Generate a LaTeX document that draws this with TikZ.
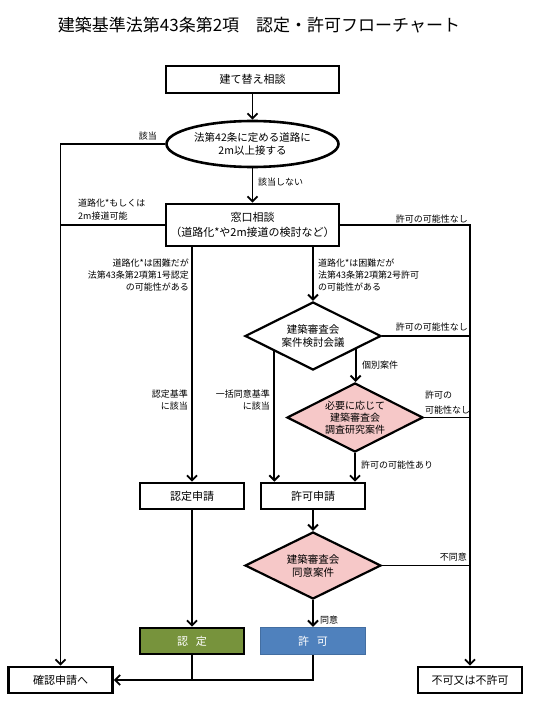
\documentclass[tikz,border=0pt]{standalone}
\usepackage{fontspec}
\setmainfont{Noto Sans CJK JP}
\usetikzlibrary{shapes.geometric,arrows.meta,calc}
\definecolor{pinkfill}{RGB}{246,200,200}
\definecolor{olivefill}{RGB}{119,147,60}
\definecolor{bluefill}{RGB}{79,129,189}
\begin{document}
\begin{tikzpicture}[x=1pt,y=-1pt,
  box/.style={draw, line width=2.6pt, minimum width=104pt, minimum height=26pt, inner sep=0pt, font=\fontsize{11}{15}\selectfont, align=center},
  dia/.style={draw, diamond, line width=2.2pt, inner sep=0pt, aspect=2, align=center, font=\fontsize{10.5}{13}\selectfont},
  lbl/.style={font=\fontsize{9}{12}\selectfont, inner sep=0pt},
  conn/.style={line width=1.9pt},
  arr/.style={conn, -{Straight Barb[length=5pt,width=10pt]}},
]
\useasboundingbox (0,0) rectangle (534,706);
\fill[white] (0,0) rectangle (534,706);

\node[font=\fontsize{17}{20}\selectfont] (title) at (259,25) {建築基準法第43条第2項　認定・許可フローチャート};

\node[box, minimum width=173pt, minimum height=27pt] (n1) at (252.5,79.5) {建て替え相談};
\node[draw, ellipse, line width=2.6pt, minimum width=172pt, minimum height=46pt, inner sep=0pt, align=center, font=\fontsize{10.5}{12.5}\selectfont] (n2) at (252.5,144) {法第42条に定める道路に\\2m以上接する};
\node[box, minimum width=173pt, minimum height=42pt] (n3) at (252.5,225) {窓口相談\\（道路化*や2m接道の検討など）};
\node[dia, fill=white, minimum width=136pt, minimum height=68pt] (d1) at (313,336) {建築審査会\\案件検討会議};
\node[dia, fill=pinkfill, minimum width=136pt, minimum height=69pt, font=\fontsize{10}{12}\selectfont] (d2) at (355,417.5) {必要に応じて\\建築審査会\\調査研究案件};
\node[box] (n4) at (192,496) {認定申請};
\node[box] (n5) at (313,496) {許可申請};
\node[dia, fill=pinkfill, minimum width=136pt, minimum height=67pt] (d3) at (313,565.5) {建築審査会\\同意案件};
\node[box, fill=olivefill, text=white] (n6) at (192,641) {認\hspace{0.7em}定};
\node[box, fill=bluefill, draw=bluefill!85!black, line width=1pt, minimum width=105.5pt, minimum height=27.5pt, text=white] (n7) at (313,641) {許\hspace{0.7em}可};
\node[box] (n8) at (60.5,680) {確認申請へ};
\node[box] (n9) at (470,680) {不可又は不許可};

\draw[arr] (n1.south) -- (n2.north);
\draw[arr] (n2.south) -- (n3.north);
\draw[arr] (n2.west) -| (n8.north);
\draw[conn] (n3.west) -- (n3.west -| n8.north);
\draw[arr] (n3.east) -| (n9.north);
\draw[arr] (n3.south -| n4.north) -- (n4.north);
\draw[arr] (n3.south -| d1.north) -- (d1.north);
\draw[conn] (d1.east) -- (d1.east -| n9.north);
\coordinate (d1l) at ($(d1.west)!0.44!(d1.south)$);
\draw[arr] (d1l) -- (d1l |- n5.north);
\coordinate (d1r) at ($(d1.south)!0.617!(d1.east)$);
\draw[arr] (d1r) -- (d1r |- d2.north);
\draw[conn] (d2.east) -- (d2.east -| n9.north);
\draw[arr] (d2.south) -- (d2.south |- n5.north);
\draw[arr] (n4.south) -- (n6.north);
\draw[arr] (n5.south) -- (d3.north);
\draw[conn] (d3.east) -- (d3.east -| n9.north);
\draw[arr] (d3.south) -- (n7.north);
\draw[conn] (n6.south) -- (n6.south |- n8.east);
\draw[arr] (n7.south) |- (n8.east);

\node[lbl, anchor=east] (l1) at (157,136) {該当};
\node[lbl, anchor=west] (l2) at (258,182) {該当しない};
\node[lbl, anchor=west, align=left, font=\fontsize{9}{13}\selectfont] (l3) at (78,209.5) {道路化*もしくは\\2m接道可能};
\node[lbl, anchor=east] (l4) at (468,219) {許可の可能性なし};
\node[lbl, anchor=east, align=right] (l5) at (189,275) {道路化*は困難だが\\法第43条第2項第1号認定\\の可能性がある};
\node[lbl, anchor=west, align=left] (l6) at (318,275) {道路化*は困難だが\\法第43条第2項第2号許可\\の可能性がある};
\node[lbl, anchor=east] (l7) at (468,327) {許可の可能性なし};
\node[lbl, anchor=west] (l8) at (362,365) {個別案件};
\node[lbl, anchor=east, align=right] (l9) at (270,400) {一括同意基準\\に該当};
\node[lbl, anchor=east, align=right] (l10) at (188,400) {認定基準\\に該当};
\node[lbl, anchor=west, align=left, font=\fontsize{9}{15}\selectfont] (l11) at (425,403) {許可の\\可能性なし};
\node[lbl, anchor=west] (l12) at (361,465) {許可の可能性あり};
\node[lbl, anchor=east] (l13) at (467,557) {不同意};
\node[lbl, anchor=west] (l14) at (320,620) {同意};
\end{tikzpicture}
\end{document}
